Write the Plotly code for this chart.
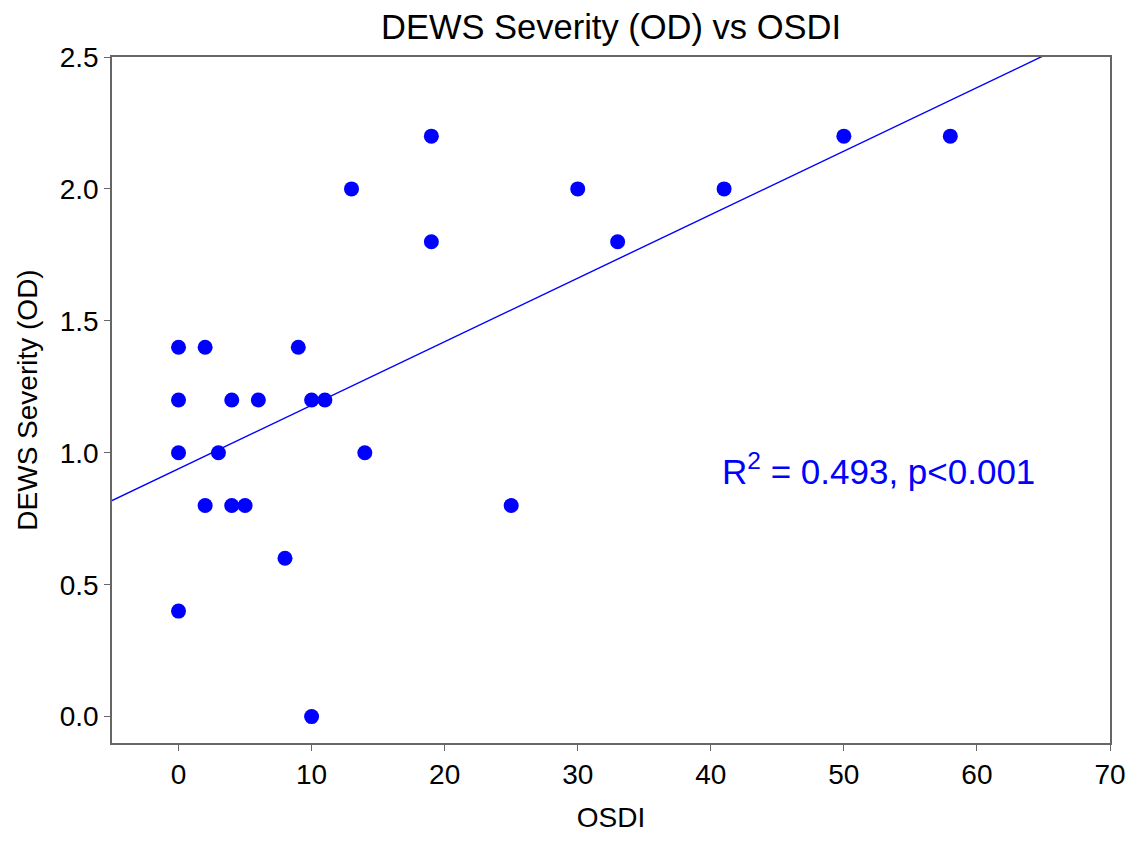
import plotly.graph_objects as go

osdi = [0, 0, 0, 0, 2, 2, 3, 4, 4, 5, 6, 8, 9, 10, 10, 11, 13, 14, 19, 19, 25, 30, 33, 41, 50, 58]
dews = [1.4, 1.2, 1.0, 0.4, 1.4, 0.8, 1.0, 1.2, 0.8, 0.8, 1.2, 0.6, 1.4, 1.2, 0.0, 1.2, 2.0, 1.0, 2.2, 1.8, 0.8, 2.0, 1.8, 2.0, 2.2, 2.2]
x_ticks = [0, 10, 20, 30, 40, 50, 60, 70]
y_ticks = [0.0, 0.5, 1.0, 1.5, 2.0, 2.5]

# regression line (end points)
fit_x = [-5, 70]
fit_y = [0.819, 2.625]

font = "Liberation Sans, Arial, sans-serif"
fig = go.Figure()
fig.add_trace(go.Scatter(x=fit_x, y=fit_y, mode="lines",
                         line=dict(color="#0000ff", width=1.4), showlegend=False))
fig.add_trace(go.Scatter(x=osdi, y=dews, mode="markers",
                         marker=dict(color="#0000ff", size=15), showlegend=False, cliponaxis=False))
fig.add_annotation(x=52.6, y=0.94, xref="x", yref="y", showarrow=False, xanchor="center", yanchor="middle",
                   text="R<sup>2</sup> = 0.493, p<0.001",
                   font=dict(family=font, size=35, color="#0000ff"))
fig.update_layout(
    width=1131, height=836, paper_bgcolor="white", plot_bgcolor="white",
    margin=dict(l=104, r=29, t=49, b=101),
    title=dict(text="DEWS Severity (OD) vs OSDI", xref="paper", x=0.5, xanchor="center",
               y=1 - 19/836, yanchor="middle", font=dict(family=font, size=34.5, color="black")),
    font=dict(family=font, color="black"),
)
fig.update_xaxes(range=[-5, 70], tickvals=x_ticks, ticks="outside", ticklen=6, tickcolor="#666",
                 showline=True, linecolor="#666", linewidth=1.5, mirror=True, showgrid=False,
                 zeroline=False, tickfont=dict(size=28), title=dict(text="OSDI", font=dict(size=28), standoff=18))
fig.update_yaxes(range=[-0.1, 2.5], tickvals=y_ticks, tickformat=".1f", ticks="outside", ticklen=6,
                 tickcolor="#666", showline=True, linecolor="#666", linewidth=1.5, mirror=True,
                 showgrid=False, zeroline=False, tickfont=dict(size=28),
                 title=dict(text="DEWS Severity (OD)", font=dict(size=28), standoff=14))
fig.write_html("out.html")
